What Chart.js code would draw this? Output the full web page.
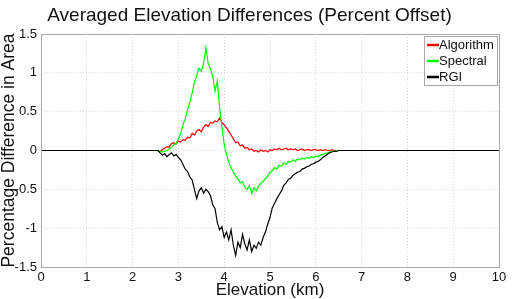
<!DOCTYPE html>
<html>
<head>
<meta charset="utf-8">
<script src="https://cdn.jsdelivr.net/npm/chart.js@4"></script>
<style>
  html, body { margin: 0; padding: 0; background: #fff; }
</style>
</head>
<body>
<canvas id="chart" width="515" height="299"></canvas>
<script>
// elevation (km): flat ends plus 0.05 km steps from 2.5 to 7.0
const elevation = [
  0,
  2.50, 2.55, 2.60, 2.65, 2.70, 2.75, 2.80, 2.85, 2.90, 2.95,
  3.00, 3.05, 3.10, 3.15, 3.20, 3.25, 3.30, 3.35, 3.40, 3.45,
  3.50, 3.55, 3.60, 3.65, 3.70, 3.75, 3.80, 3.85, 3.90, 3.95,
  4.00, 4.05, 4.10, 4.15, 4.20, 4.25, 4.30, 4.35, 4.40, 4.45,
  4.50, 4.55, 4.60, 4.65, 4.70, 4.75, 4.80, 4.85, 4.90, 4.95,
  5.00, 5.05, 5.10, 5.15, 5.20, 5.25, 5.30, 5.35, 5.40, 5.45,
  5.50, 5.55, 5.60, 5.65, 5.70, 5.75, 5.80, 5.85, 5.90, 5.95,
  6.00, 6.05, 6.10, 6.15, 6.20, 6.25, 6.30, 6.35, 6.40, 6.45,
  6.50, 6.55, 6.60, 6.65, 6.70, 6.75, 6.80, 6.85, 6.90, 6.95,
  7.00,
  10
];

const algorithm = [
  0,
  0, 0, -0.01, 0.01, 0.03, 0.05, 0.04, 0.09, 0.10, 0.08,
  0.12, 0.11, 0.14, 0.13, 0.17, 0.16, 0.22, 0.20, 0.25, 0.27,
  0.24, 0.30, 0.33, 0.31, 0.36, 0.35, 0.38, 0.37, 0.42, 0.36,
  0.33, 0.29, 0.25, 0.20, 0.15, 0.10, 0.11, 0.06, 0.07, 0.03,
  0.04, 0.01, 0.02, -0.01, 0.00, -0.02, 0.01, -0.01, 0.00, -0.02,
  0.01, 0.00, 0.02, 0.01, 0.03, 0.01, 0.02, 0.03, 0.01, 0.02,
  0.01, 0.02, 0.00, 0.01, 0.02, 0.00, 0.01, 0.01, 0.00, 0.01,
  0.01, 0.00, 0.01, 0.00, 0.01, 0.00, 0.00, 0.01, 0.00, 0,
  0, 0, 0, 0, 0, 0, 0, 0, 0, 0,
  0,
  0
];

const spectral = [
  0,
  0, 0, -0.01, -0.02, -0.01, 0.00, 0.02, 0.04, 0.07, 0.09,
  0.15, 0.22, 0.33, 0.41, 0.52, 0.62, 0.74, 0.88, 0.96, 1.06,
  1.02, 1.12, 1.32, 1.12, 1.05, 0.95, 0.76, 0.90, 0.55, 0.30,
  0.08, -0.05, -0.15, -0.22, -0.28, -0.33, -0.36, -0.42, -0.40, -0.47,
  -0.50, -0.45, -0.55, -0.48, -0.52, -0.46, -0.42, -0.40, -0.36, -0.33,
  -0.28, -0.26, -0.22, -0.24, -0.19, -0.20, -0.16, -0.18, -0.14, -0.15,
  -0.12, -0.14, -0.11, -0.12, -0.10, -0.11, -0.09, -0.10, -0.08, -0.09,
  -0.07, -0.08, -0.06, -0.05, -0.04, -0.03, -0.02, -0.01, -0.01, 0,
  0, 0, 0, 0, 0, 0, 0, 0, 0, 0,
  0,
  0
];

const rgi = [
  0,
  0, 0, -0.03, -0.06, -0.04, -0.08, -0.05, -0.03, -0.07, -0.05,
  -0.09, -0.12, -0.18, -0.24, -0.27, -0.34, -0.38, -0.50, -0.62, -0.52,
  -0.48, -0.55, -0.50, -0.53, -0.58, -0.70, -0.75, -0.93, -1.02, -0.98,
  -1.12, -1.05, -1.15, -1.02, -1.22, -1.35, -1.18, -1.25, -1.08, -1.20,
  -1.28, -1.15, -1.30, -1.22, -1.26, -1.18, -1.22, -1.12, -1.05, -0.95,
  -0.86, -0.74, -0.68, -0.62, -0.57, -0.52, -0.45, -0.42, -0.37, -0.36,
  -0.32, -0.30, -0.28, -0.27, -0.24, -0.23, -0.21, -0.20, -0.18, -0.17,
  -0.15, -0.14, -0.12, -0.09, -0.07, -0.05, -0.03, -0.02, -0.01, -0.01,
  0, 0, 0, 0, 0, 0, 0, 0, 0, 0,
  0,
  0
];

const xTicks = [0, 1, 2, 3, 4, 5, 6, 7, 8, 9, 10];
const yTicks = [-1.5, -1, -0.5, 0, 0.5, 1, 1.5];

const FONT = '"Liberation Sans", Arial, Helvetica, sans-serif';

function points(values) {
  return elevation.map((x, i) => ({x: x, y: values[i]}));
}

// MATLAB style box round the plot area
const frame = {
  id: 'frame',
  afterDraw(chart) {
    const {ctx, chartArea: a} = chart;
    ctx.save();
    ctx.strokeStyle = '#a8a8a8';
    ctx.lineWidth = 1;
    ctx.strokeRect(Math.round(a.left) + 0.5, Math.round(a.top) + 0.5,
      Math.round(a.right - a.left), Math.round(a.bottom - a.top));
    ctx.restore();
  }
};

// legend box inside the top right corner
const insetLegend = {
  id: 'insetLegend',
  afterDraw(chart) {
    const {ctx, chartArea: a} = chart;
    const w = 73, h = 49;
    const x0 = a.right - w - 2, y0 = a.top + 2;
    ctx.save();
    ctx.fillStyle = '#fff';
    ctx.fillRect(x0, y0, w, h);
    ctx.strokeStyle = '#a8a8a8';
    ctx.lineWidth = 1;
    ctx.strokeRect(x0 + 0.5, y0 + 0.5, w, h);
    ctx.font = '13px ' + FONT;
    ctx.textBaseline = 'middle';
    chart.data.datasets.forEach((ds, i) => {
      const y = y0 + 9 + i * 16;
      ctx.strokeStyle = ds.borderColor;
      ctx.lineWidth = 2.5;
      ctx.beginPath();
      ctx.moveTo(x0 + 3, y);
      ctx.lineTo(x0 + 15, y);
      ctx.stroke();
      ctx.fillStyle = '#111';
      ctx.fillText(ds.label, x0 + 15, y);
    });
    ctx.restore();
  }
};

new Chart(document.getElementById('chart').getContext('2d'), {
  type: 'line',
  data: {
    datasets: [
      {label: 'Algorithm', data: points(algorithm), borderColor: '#ff0000', order: 3},
      {label: 'Spectral', data: points(spectral), borderColor: '#00ff00', order: 2},
      {label: 'RGI', data: points(rgi), borderColor: '#000000', order: 1},
    ],
  },
  options: {
    responsive: false,
    animation: false,
    events: [],
    elements: {
      point: {radius: 0},
      line: {borderWidth: 1.2, tension: 0},
    },
    layout: {padding: {left: 0, right: 16, top: 0, bottom: 0}},
    plugins: {
      legend: {display: false},
      tooltip: {enabled: false},
      title: {
        display: true,
        text: 'Averaged Elevation Differences (Percent Offset)',
        color: '#111',
        font: {family: FONT, size: 19, weight: 'normal', lineHeight: 1.2},
        padding: {top: 4, bottom: 7.2},
      },
    },
    scales: {
      x: {
        type: 'linear',
        min: 0,
        max: 10,
        afterBuildTicks: s => { s.ticks = xTicks.map(v => ({value: v})); },
        afterFit: s => { s.height = 32; },
        grid: {color: '#d8d8d8', drawTicks: false},
        border: {display: false, dash: [1, 2]},
        ticks: {color: '#111', padding: 3, maxRotation: 0, font: {family: FONT, size: 13},
          callback: v => String(v)},
        title: {
          display: true,
          text: 'Elevation (km)',
          color: '#111',
          padding: 0,
          font: {family: FONT, size: 17, lineHeight: 1},
        },
      },
      y: {
        min: -1.5,
        max: 1.5,
        afterBuildTicks: s => { s.ticks = yTicks.map(v => ({value: v})); },
        afterFit: s => { s.width = 41; },
        grid: {color: '#d8d8d8', drawTicks: false},
        border: {display: false, dash: [1, 2]},
        ticks: {color: '#111', padding: 4, font: {family: FONT, size: 13},
          callback: v => String(v)},
        title: {
          display: true,
          text: 'Percentage Difference in Area',
          color: '#111',
          padding: 0,
          font: {family: FONT, size: 17.5, lineHeight: 1},
        },
      },
    },
  },
  plugins: [frame, insetLegend],
});
</script>
</body>
</html>
